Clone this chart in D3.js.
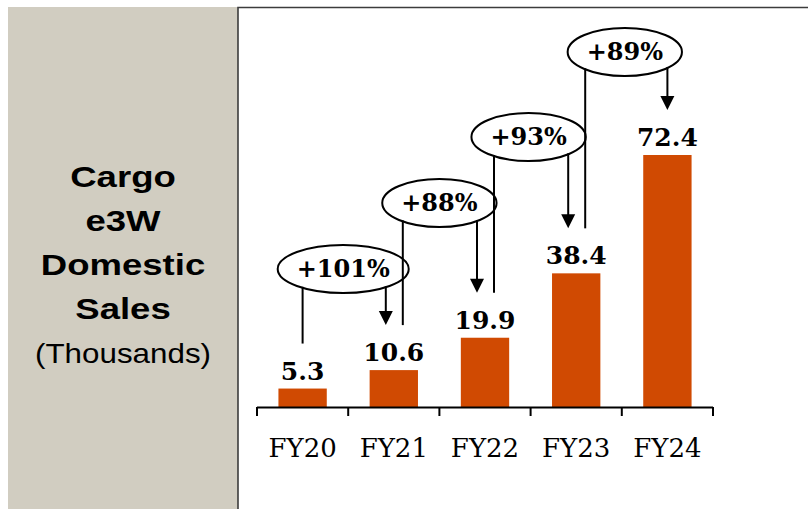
<!DOCTYPE html>
<html><head><meta charset="utf-8">
<script src="https://cdn.jsdelivr.net/npm/d3@7"></script>
<style>
html,body{margin:0;padding:0;background:#fff;}
svg{display:block;}
</style></head>
<body>
<script>
const categories = ["FY20","FY21","FY22","FY23","FY24"];
const values = [5.3, 10.6, 19.9, 38.4, 72.4];
const growthLabels = ["+101%","+88%","+93%","+89%"];
const titleLines = ["Cargo","e3W","Domestic","Sales"];
const subtitle = "(Thousands)";

const W = 808, H = 509;
const svg = d3.select("body").append("svg").attr("width", W).attr("height", H);

// left panel
svg.append("rect").attr("x", 8).attr("y", 7).attr("width", 230).attr("height", H - 7).attr("fill", "#d1cdc1");
svg.append("path").attr("d", `M238,${H} V7.5 H${W}`).attr("fill", "none").attr("stroke", "#3c3c3c").attr("stroke-width", 1.6);

const tg = svg.append("g").attr("font-family", "Liberation Sans, Arial, sans-serif").attr("text-anchor", "middle").attr("fill", "#000");
titleLines.forEach((t, i) => {
  tg.append("text").attr("transform", `translate(123,${187 + i * 44}) scale(1.26,1)`)
    .attr("font-size", 29).attr("font-weight", "bold").text(t);
});
tg.append("text").attr("transform", `translate(123,${187 + 4 * 44}) scale(1.12,1)`)
  .attr("font-size", 28).text(subtitle);

// scales
const x = d3.scaleBand().domain(categories).range([257, 713]).paddingInner(0.47).paddingOuter(0.235);
const y = d3.scaleLinear().domain([0, d3.max(values)]).range([407, 155]);
const cx = i => x(categories[i]) + x.bandwidth() / 2;

// bars
svg.append("g").selectAll("rect").data(values).join("rect")
  .attr("x", (d, i) => x(categories[i]))
  .attr("width", x.bandwidth())
  .attr("y", d => y(d))
  .attr("height", d => y(0) - y(d))
  .attr("fill", "#d04a02");

// value labels
svg.append("g").selectAll("text").data(values).join("text")
  .attr("x", (d, i) => cx(i))
  .attr("y", d => y(d) - 9)
  .attr("text-anchor", "middle")
  .attr("font-family", "DejaVu Serif, serif")
  .attr("font-weight", "bold")
  .attr("font-size", 25)
  .text(d => d.toFixed(1));

// axis
const ax = svg.append("g").attr("transform", `translate(0,${y(0)})`)
  .call(d3.axisBottom(x).tickSize(0).tickPadding(0));
ax.select(".domain").remove();
ax.selectAll("text").attr("dy", null).attr("y", 50)
  .attr("font-family", "DejaVu Serif, serif").attr("font-size", 26).attr("fill", "#000");
const edges = d3.range(categories.length + 1).map(i => x.range()[0] + i * x.step());
ax.append("line").attr("x1", edges[0]).attr("x2", edges[edges.length - 1]).attr("y1", 0.5).attr("y2", 0.5)
  .attr("stroke", "#000").attr("stroke-width", 2);
ax.selectAll(".edge").data(edges).join("line").attr("class", "edge")
  .attr("x1", d => d).attr("x2", d => d).attr("y1", 0).attr("y2", 9)
  .attr("stroke", "#000").attr("stroke-width", 2);

// growth annotations
const ellipseY = [269, 203, 137, 52];
const ellipseShift = [-5, 0, -2, 3];
const ag = svg.append("g");
const lineEnd = v => y(v) - 45;
const ellipses = [];
growthLabels.forEach((lab, i) => {
  const ecx = (cx(i) + cx(i + 1)) / 2 + ellipseShift[i];
  const ecy = ellipseY[i];
  const g = ag.append("g");
  const el = g.append("ellipse").attr("cx", ecx).attr("cy", ecy).attr("fill", "#fff").attr("stroke", "#000").attr("stroke-width", 2);
  const t = g.append("text").attr("x", ecx).attr("y", ecy + 8).attr("text-anchor", "middle")
    .attr("font-family", "DejaVu Serif, serif").attr("font-weight", "bold").attr("font-size", 24).text(lab);
  const bw = t.node().getComputedTextLength();
  const rx = bw / 2 + 19, ry = 24;
  el.attr("rx", rx).attr("ry", ry);
  ellipses.push({ecx, ecy, rx, ry});
});
const lg = svg.append("g").attr("stroke", "#000").attr("stroke-width", 2);
const edgeY = (e, px) => e.ecy + e.ry * Math.sqrt(Math.max(0, 1 - Math.pow((px - e.ecx) / e.rx, 2)));
ellipses.forEach((e, i) => {
  const lx = i === 0 ? cx(i) : cx(i) + 9;
  lg.append("line").attr("x1", lx).attr("x2", lx).attr("y1", edgeY(e, lx) - 1).attr("y2", lineEnd(values[i]));
  const axx = i === ellipses.length - 1 ? cx(i + 1) : cx(i + 1) - 8;
  const tip = lineEnd(values[i + 1]);
  lg.append("line").attr("x1", axx).attr("x2", axx).attr("y1", edgeY(e, axx) - 1).attr("y2", tip - 12);
  svg.append("path").attr("d", `M${axx - 7},${tip - 14} L${axx + 7},${tip - 14} L${axx},${tip} Z`).attr("fill", "#000");
});
</script>
</body></html>
